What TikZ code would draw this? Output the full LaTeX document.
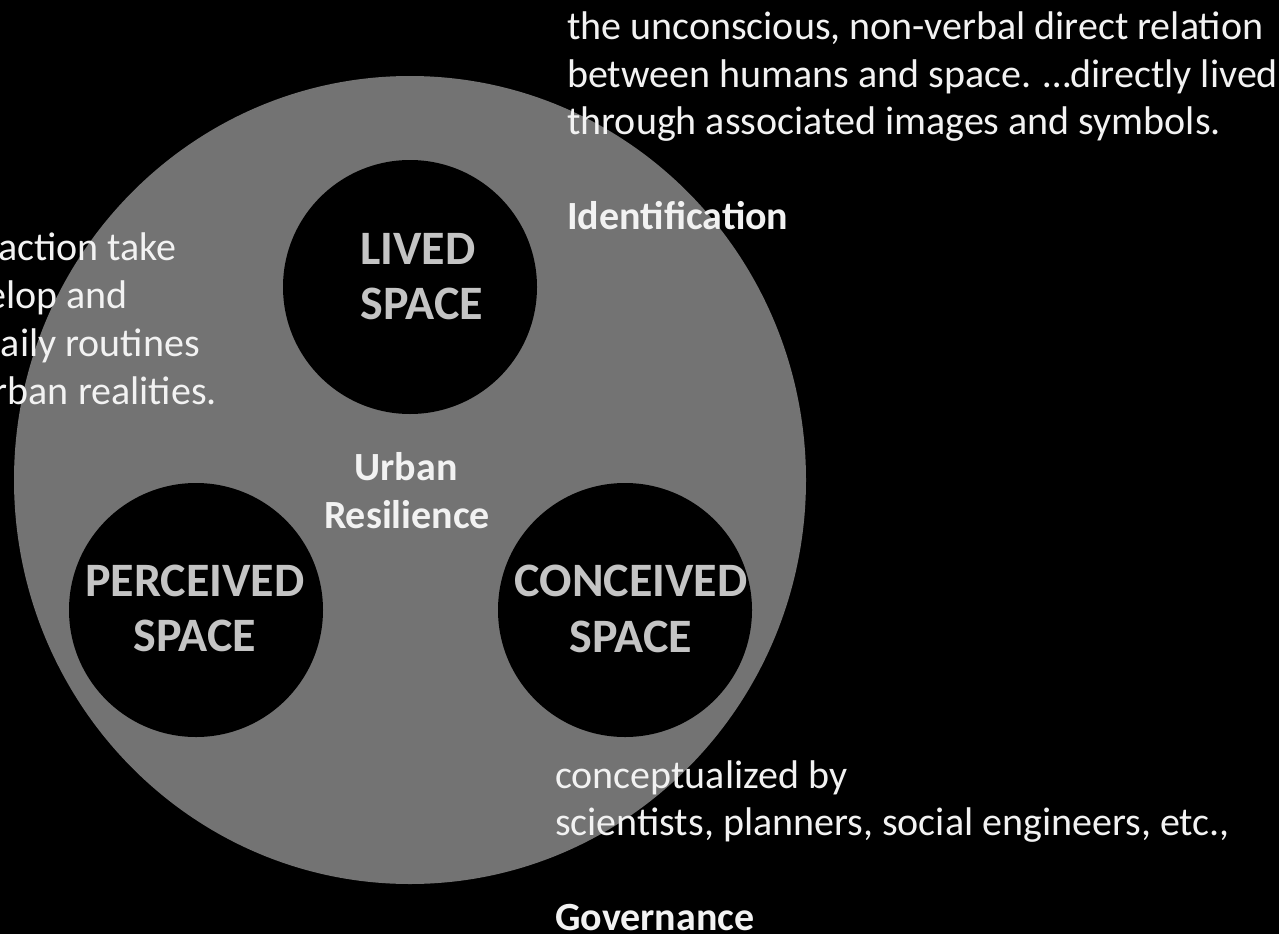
\documentclass[tikz,border=0pt]{standalone}
\usepackage{fontspec}
\setmainfont{Carlito}
\usetikzlibrary{calc,shapes.geometric}
\definecolor{ringgray}{HTML}{737373}
\definecolor{labelgray}{HTML}{C4C4C4}
\definecolor{textwhite}{HTML}{F2F2F2}
\begin{document}
\begin{tikzpicture}[x=1pt,y=-1pt,
  outer/.style={ellipse,fill=ringgray,minimum width=792pt,minimum height=808pt,inner sep=0pt},
  space/.style={circle,fill=black,minimum size=254pt,inner sep=0pt},
  spacelabel/.style={text=labelgray,font=\fontsize{48}{55}\selectfont\bfseries,anchor=base,inner sep=0pt},
  centrelabel/.style={text=textwhite,font=\fontsize{40}{48}\selectfont\bfseries,anchor=base,inner sep=0pt},
  desc/.style={text=textwhite,font=\fontsize{40}{47}\selectfont,anchor=base west,inner sep=0pt},
  descbold/.style={desc,font=\fontsize{40}{47}\selectfont\bfseries},
  descclip/.style={desc,anchor=base east},
]
% page and frame
\fill[black] (0,0) rectangle (1279,934);
\useasboundingbox (0,0) rectangle (1279,934);
\clip (0,0) rectangle (1279,934);

% the large disc and the three spaces
\node[outer] (whole) at (410,480) {};
\node[space] (lived) at (410,287) {};
\node[space] (perceived) at (196,610) {};
\node[space] (conceived) at (625,610) {};

% labels inside the spaces
\node[spacelabel] (livedA) at ($(lived)+(8,-23)$) {LIVED};
\node[spacelabel] (livedB) at ($(lived)+(12,32)$) {SPACE};
\node[spacelabel] (perceivedA) at ($(perceived)+(-1,-14)$) {PERCEIVED};
\node[spacelabel] (perceivedB) at ($(perceived)+(-1,41)$) {SPACE};
\node[spacelabel] (conceivedA) at ($(conceived)+(6,-14)$) {CONCEIVED};
\node[spacelabel] (conceivedB) at ($(conceived)+(6,42)$) {SPACE};

% centre label
\node[centrelabel] (urbanA) at (406,480) {Urban};
\node[centrelabel] (urbanB) at (407,528) {Resilience};

% lived space description
\node[desc] (lv1) at (567,40) {the unconscious, non-verbal direct relation};
\node[desc] (lv2) at (567,87) {between humans and space. …directly lived};
\node[desc] (lv3) at (567,134) {through associated images and symbols.};
\node[descbold] (lv4) at (567,229) {Identification};

% perceived space description (running off the left edge)
\node[descclip] (pc1) at (177,260) {action take};
\node[descclip] (pc2) at (128,308) {elop and};
\node[descclip] (pc3) at (200,356) {aily routines};
\node[descclip] (pc4) at (217,404) {rban realities.};

% conceived space description
\node[desc] (cc1) at (555,788) {conceptualized by};
\node[desc] (cc2) at (555,835) {scientists, planners, social engineers, etc.,};
\node[descbold] (cc3) at (555,930) {Governance};
\end{tikzpicture}
\end{document}
